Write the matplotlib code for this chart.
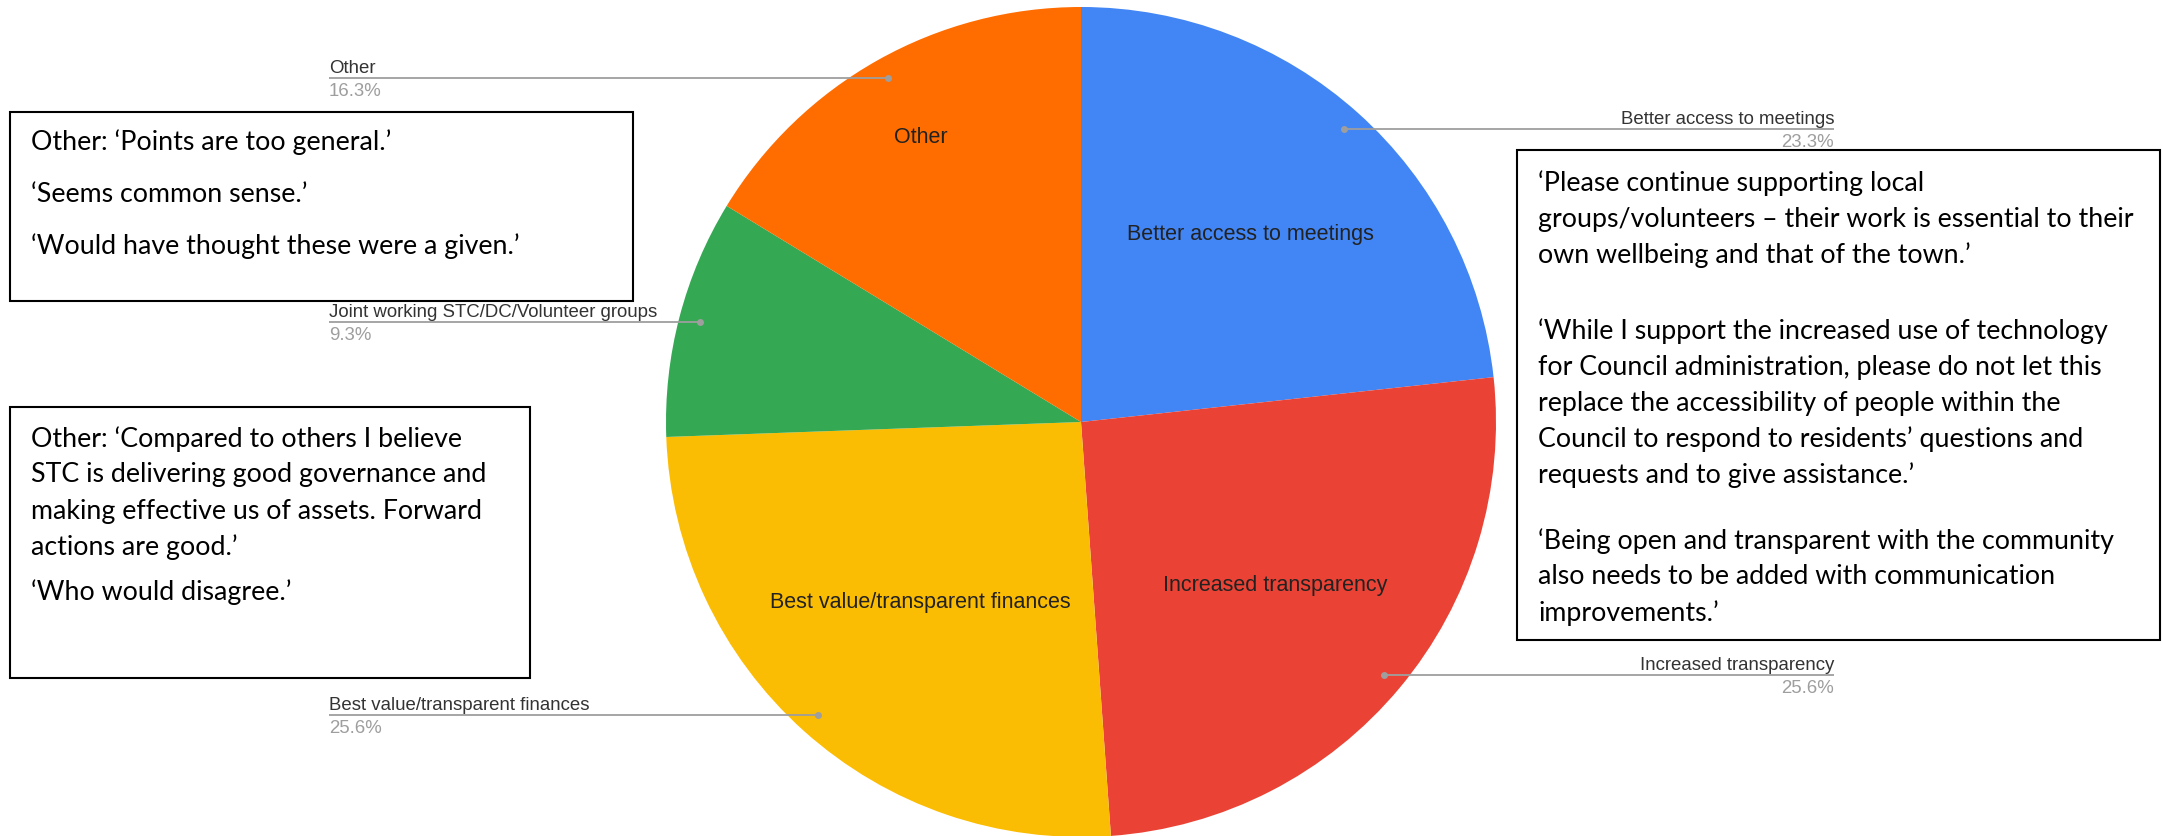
import matplotlib.pyplot as plt
from matplotlib.patches import Rectangle
import numpy as np

# slice data, clockwise from 12 o'clock
categories = ['Better access to meetings', 'Increased transparency',
              'Best value/transparent finances',
              'Joint working STC/DC/Volunteer groups', 'Other']
shares = [23.3, 25.6, 25.6, 9.3, 16.3]
colours = ['#4285F4', '#EA4335', '#FBBC04', '#34A853', '#FF6D01']
inside_dist = [0.61, 0.61, 0.58, None, 0.79]  # None -> no label in the slice

# comment boxes
box1_lines = ['Other: \u2018Points are too general.\u2019',
              '\u2018Seems common sense.\u2019',
              '\u2018Would have thought these were a given.\u2019']
box2_lines = ['Other: \u2018Compared to others I believe',
              'STC is delivering good governance and',
              'making effective us of assets. Forward',
              'actions are good.\u2019',
              '\u2018Who would disagree.\u2019']
box3_lines = ['\u2018Please continue supporting local',
              'groups/volunteers \u2013 their work is essential to their',
              'own wellbeing and that of the town.\u2019',
              '\u2018While I support the increased use of technology',
              'for Council administration, please do not let this',
              'replace the accessibility of people within the',
              'Council to respond to residents\u2019 questions and',
              'requests and to give assistance.\u2019',
              '\u2018Being open and transparent with the community',
              'also needs to be added with communication',
              'improvements.\u2019']

W, H = 2163, 837
cx, cy, R = 1081, 423, 415

fig = plt.figure(figsize=(W / 100, H / 100), dpi=100)
ax = fig.add_axes([0, 0, 1, 1])

wedges, _ = ax.pie(shares, colors=colours, startangle=90, counterclock=False,
                   center=(cx, H - cy), radius=R, frame=True,
                   wedgeprops=dict(linewidth=0))
ax.set_xlim(0, W)
ax.set_ylim(0, H)
ax.set_aspect('equal')
ax.axis('off')

label_font = ['Liberation Sans', 'DejaVu Sans']
for w, name, s, d in zip(wedges, categories, shares, inside_dist):
    mid = np.deg2rad((w.theta1 + w.theta2) / 2)
    # label inside the slice
    if d is not None:
        ax.text(cx + d * R * np.cos(mid), H - cy + d * R * np.sin(mid), name,
                ha='center', va='center', fontsize=15.5, color='#222222',
                family=label_font)
    # leader line with dot
    dx = cx + 0.95 * R * np.cos(mid)
    dy = H - cy + 0.95 * R * np.sin(mid)
    right = np.cos(mid) > 0
    ex = 1834 if right else 329
    ax.plot([dx, ex], [dy, dy], color='#9e9e9e', lw=1.3, solid_capstyle='butt')
    ax.plot(dx, dy, 'o', ms=5, color='#9e9e9e', mec='none')
    ha = 'right' if right else 'left'
    ax.text(ex, dy + 6, name, ha=ha, va='baseline', fontsize=13.4,
            color='#333333', family=label_font)
    ax.text(ex, dy - 4, f'{s:.1f}%', ha=ha, va='top', fontsize=13.4,
            color='#9e9e9e', family=label_font)

# text boxes: (left, top, right, bottom) in pixels, then line centres
boxes = [
    ((10, 113, 633, 302), [142, 195, 246], box1_lines),
    ((10, 408, 530, 679), [439, 475, 511, 547, 592], box2_lines),
    ((1517, 151, 2160, 641),
     [183, 219, 255, 331, 367, 403, 439, 475, 541, 577, 613], box3_lines),
]
for (l, t, r, b), ys, lines in boxes:
    ax.add_patch(Rectangle((l, H - b), r - l, b - t, facecolor='white',
                           edgecolor='black', lw=1.5, zorder=5))
    for y, line in zip(ys, lines):
        ax.text(l + 21, H - y, line, ha='left', va='center', fontsize=19.3,
                color='black', family=['Lato', 'DejaVu Sans'], zorder=6)

fig.savefig('out.png', dpi=100)
